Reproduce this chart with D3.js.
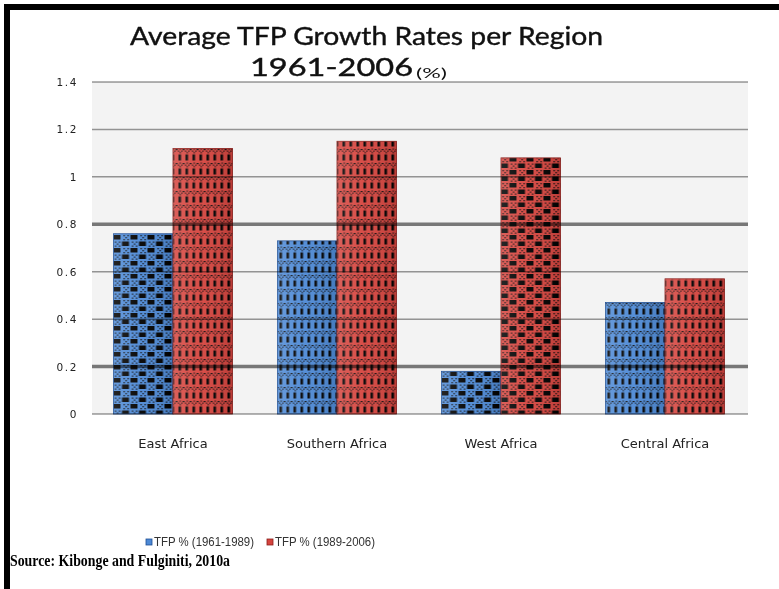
<!DOCTYPE html>
<html>
<head>
<meta charset="utf-8">
<script src="https://cdn.jsdelivr.net/npm/d3@7"></script>
<style>
  body { margin: 0; background: #fff; }
  svg { display: block; }
</style>
</head>
<body>
<div id="chart"></div>
<script>
// data ---------------------------------------------------------------------
const regions = ['East Africa', 'Southern Africa', 'West Africa', 'Central Africa'];
const seriesNames = ['TFP % (1961-1989)', 'TFP % (1989-2006)'];
const tfpEarly = [0.76, 0.73, 0.18, 0.47];
const tfpLate = [1.12, 1.15, 1.08, 0.57];
const yTicks = [0, 0.2, 0.4, 0.6, 0.8, 1, 1.2, 1.4];

// layout -------------------------------------------------------------------
const width = 779;
const height = 589;
const plot = { left: 92, right: 748, top: 82, bottom: 414 };
const colors = ['#4d89d5', '#d5443e'];
const edgeColors = ['#1f4f95', '#8c1f1b'];
// which hatch each bar gets (blocks / bars), like the original fill patterns
const hatch = {
  'East Africa': ['blocks', 'bars'],
  'Southern Africa': ['bars', 'bars'],
  'West Africa': ['blocks', 'blocks'],
  'Central Africa': ['bars', 'bars']
};

const svg = d3.select('#chart').append('svg')
  .attr('width', width)
  .attr('height', height);

// patterns -----------------------------------------------------------------
const defs = svg.append('defs');
const dot = (sel, p, s) => sel.append('rect')
  .attr('x', p[0]).attr('y', p[1])
  .attr('width', s).attr('height', s)
  .attr('fill', '#0a0a0a');
colors.forEach((c, i) => {
  // big black blocks in staggered rows, little crosses between
  const blocks = defs.append('pattern')
    .attr('id', 'blocks-' + i)
    .attr('patternUnits', 'userSpaceOnUse')
    .attr('width', 17).attr('height', 13);
  blocks.append('rect').attr('width', 17).attr('height', 13).attr('fill', c);
  blocks.append('rect').attr('x', 0).attr('y', 1).attr('width', 7).attr('height', 4.5).attr('fill', '#000');
  blocks.append('rect').attr('x', 8.5).attr('y', 7.5).attr('width', 7).attr('height', 4.5).attr('fill', '#000');
  [[10, 1], [14, 1], [12, 3], [10, 5], [14, 5], [1.5, 7.5], [5.5, 7.5], [3.5, 9.5], [1.5, 11.5], [5.5, 11.5]]
    .forEach(p => dot(blocks, p, 1.3));

  // short vertical dashes with diamond dots between
  const bars = defs.append('pattern')
    .attr('id', 'bars-' + i)
    .attr('patternUnits', 'userSpaceOnUse')
    .attr('width', 7).attr('height', 14);
  bars.append('rect').attr('width', 7).attr('height', 14).attr('fill', c);
  bars.append('rect').attr('x', 2).attr('y', 0.5).attr('width', 2.6).attr('height', 6).attr('fill', '#000');
  [[0, 9], [1.6, 10.6], [3.2, 12.2], [4.8, 10.6], [6.2, 9], [3.2, 8.5]]
    .forEach(p => dot(bars, p, 1.2));
});

// shading over the bars
const grad = defs.append('linearGradient').attr('id', 'shade').attr('x1', 0).attr('x2', 1);
grad.append('stop').attr('offset', '0%').attr('stop-color', '#fff').attr('stop-opacity', 0.15);
grad.append('stop').attr('offset', '45%').attr('stop-color', '#fff').attr('stop-opacity', 0.05);
grad.append('stop').attr('offset', '100%').attr('stop-color', '#000').attr('stop-opacity', 0.12);

// frame --------------------------------------------------------------------
svg.append('rect').attr('x', 4).attr('y', 4).attr('width', width - 4).attr('height', 6).attr('fill', '#000');
svg.append('rect').attr('x', 4).attr('y', 4).attr('width', 6).attr('height', height - 4).attr('fill', '#000');

// scales -------------------------------------------------------------------
const yScale = d3.scaleLinear()
  .domain([0, 1.4])
  .range([plot.bottom, plot.top]);
const x0 = d3.scaleBand()
  .domain(regions)
  .range([plot.left - 1, plot.right - 1])
  .paddingInner(0.274)
  .paddingOuter(0.137);
const x1 = d3.scaleBand()
  .domain(seriesNames)
  .range([0, x0.bandwidth()]);

// plot area ----------------------------------------------------------------
svg.append('rect')
  .attr('x', plot.left).attr('y', plot.top)
  .attr('width', plot.right - plot.left)
  .attr('height', plot.bottom - plot.top)
  .attr('fill', '#f3f3f3');

// bars ---------------------------------------------------------------------
const rows = regions.map((r, i) => ({ region: r, values: [tfpEarly[i], tfpLate[i]] }));
const groups = svg.selectAll('.group')
  .data(rows)
  .enter()
  .append('g')
  .attr('class', 'group')
  .attr('transform', d => 'translate(' + x0(d.region) + ',0)');
const bar = groups.selectAll('g.bar')
  .data(d => d.values.map((v, j) => ({ region: d.region, value: v, j: j })))
  .enter()
  .append('g')
  .attr('class', 'bar');
bar.append('rect')
  .attr('x', d => x1(seriesNames[d.j]))
  .attr('y', d => yScale(d.value))
  .attr('width', x1.bandwidth())
  .attr('height', d => yScale(0) - yScale(d.value))
  .attr('fill', d => 'url(#' + hatch[d.region][d.j] + '-' + d.j + ')')
  .attr('stroke', d => edgeColors[d.j])
  .attr('stroke-width', 0.8);
bar.append('rect')
  .attr('x', d => x1(seriesNames[d.j]))
  .attr('y', d => yScale(d.value))
  .attr('width', x1.bandwidth())
  .attr('height', d => yScale(0) - yScale(d.value))
  .attr('fill', 'url(#shade)');

// gridlines (drawn over the bars, multiplied in) ------------------------------
svg.selectAll('.grid')
  .data(yTicks)
  .enter()
  .append('line')
  .attr('x1', plot.left)
  .attr('x2', plot.right)
  .attr('y1', d => yScale(d))
  .attr('y2', d => yScale(d))
  .attr('stroke', d => (d === 0.8 || d === 0.2) ? '#7d7d7d' : '#9a9a9a')
  .attr('stroke-width', d => (d === 0.8 || d === 0.2) ? 3.5 : 1.5)
  .style('mix-blend-mode', 'multiply');

// y labels -----------------------------------------------------------------
svg.selectAll('.ylab')
  .data(yTicks)
  .enter()
  .append('text')
  .attr('x', 78)
  .attr('y', d => yScale(d) + 4)
  .attr('text-anchor', 'end')
  .attr('font-family', 'DejaVu Sans')
  .attr('font-size', '10.5px')
  .attr('letter-spacing', '1.6px')
  .attr('fill', '#222')
  .text(d => d);

// category labels ----------------------------------------------------------
svg.selectAll('.xlab')
  .data(regions)
  .enter()
  .append('text')
  .attr('x', d => x0(d) + x0.bandwidth() / 2)
  .attr('y', 448)
  .attr('text-anchor', 'middle')
  .attr('font-family', 'DejaVu Sans')
  .attr('font-size', '13px')
  .attr('fill', '#222')
  .text(d => d);

// title --------------------------------------------------------------------
svg.append('text')
  .attr('x', 130).attr('y', 45)
  .attr('font-family', 'Lato')
  .attr('font-size', '25px')
  .attr('textLength', 473)
  .attr('lengthAdjust', 'spacingAndGlyphs')
  .attr('fill', '#111')
  .attr('stroke', '#111')
  .attr('stroke-width', 0.4)
  .text('Average TFP Growth Rates per Region');
svg.append('text')
  .attr('x', 250).attr('y', 76)
  .attr('font-family', 'Lato')
  .attr('font-size', '25px')
  .attr('textLength', 163)
  .attr('lengthAdjust', 'spacingAndGlyphs')
  .attr('fill', '#111')
  .attr('stroke', '#111')
  .attr('stroke-width', 0.4)
  .text('1961-2006');
svg.append('text')
  .attr('x', 416).attr('y', 78)
  .attr('font-family', 'Lato')
  .attr('font-size', '14px')
  .attr('textLength', 31)
  .attr('lengthAdjust', 'spacingAndGlyphs')
  .attr('fill', '#111')
  .text('(%)');

// legend -------------------------------------------------------------------
const legendX = [146, 267];
const legend = svg.selectAll('.legend')
  .data(seriesNames)
  .enter()
  .append('g')
  .attr('transform', (d, i) => 'translate(' + legendX[i] + ',539)');
legend.append('rect')
  .attr('width', 6).attr('height', 6)
  .attr('fill', (d, i) => colors[i])
  .attr('stroke', (d, i) => edgeColors[i])
  .attr('stroke-width', 0.8);
legend.append('text')
  .attr('x', 8).attr('y', 7)
  .attr('font-family', 'Liberation Sans')
  .attr('font-size', '12px')
  .attr('textLength', 100)
  .attr('lengthAdjust', 'spacingAndGlyphs')
  .attr('fill', '#333')
  .text(d => d);

// source -------------------------------------------------------------------
svg.append('text')
  .attr('x', 10).attr('y', 566)
  .attr('font-family', 'Liberation Serif')
  .attr('font-weight', 'bold')
  .attr('font-size', '16px')
  .attr('textLength', 220)
  .attr('lengthAdjust', 'spacingAndGlyphs')
  .attr('fill', '#000')
  .text('Source: Kibonge and Fulginiti, 2010a');
</script>
</body>
</html>
